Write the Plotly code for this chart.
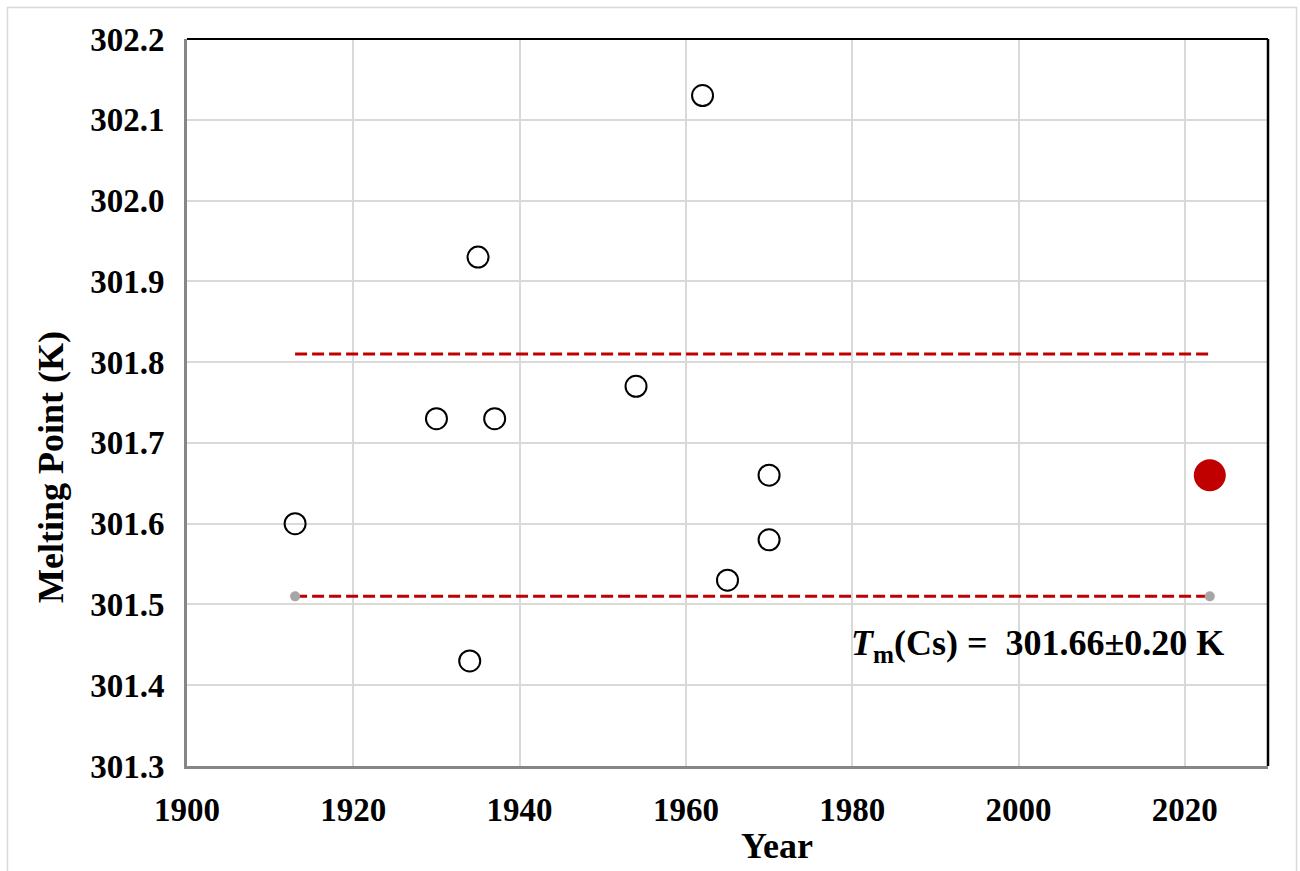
import plotly.graph_objects as go

years = [1913, 1930, 1934, 1935, 1937, 1954, 1962, 1965, 1970, 1970]
melting_points = [301.60, 301.73, 301.43, 301.93, 301.73, 301.77, 302.13, 301.53, 301.66, 301.58]
selected_year = [2023]
selected_value = [301.66]
band_years = [1913, 2023]
upper_bound = [301.81, 301.81]
lower_bound = [301.51, 301.51]
x_ticks = [1900, 1920, 1940, 1960, 1980, 2000, 2020]
y_ticks = [301.3, 301.4, 301.5, 301.6, 301.7, 301.8, 301.9, 302.0, 302.1, 302.2]

FONT = "Liberation Serif"
W, H = 1300, 871
L, R, T, B = 187, 1268, 39, 766

fig = go.Figure()
fig.add_trace(go.Scatter(x=band_years, y=upper_bound, mode="lines",
                         line=dict(color="#c00000", width=3, dash="12px,5px"),
                         showlegend=False, hoverinfo="skip"))
fig.add_trace(go.Scatter(x=band_years, y=lower_bound, mode="lines+markers",
                         line=dict(color="#c00000", width=3, dash="12px,5px"),
                         marker=dict(color="#a6a6a6", size=10),
                         showlegend=False, hoverinfo="skip"))
fig.add_trace(go.Scatter(x=years, y=melting_points, mode="markers",
                         marker=dict(symbol="circle-open", size=21, color="black",
                                     line=dict(width=2, color="black")),
                         showlegend=False))
fig.add_trace(go.Scatter(x=selected_year, y=selected_value, mode="markers",
                         marker=dict(symbol="circle", size=32, color="#c00000"),
                         showlegend=False))

def px_x(px):
    return (px - L) / (R - L)

def px_y(py):
    return (B - py) / (B - T)

shapes = [
    dict(type="rect", xref="paper", yref="paper",
         x0=px_x(7.5), x1=px_x(1296.5), y0=px_y(900), y1=px_y(7.5),
         line=dict(color="#d9d9d9", width=1.5), layer="below"),
    dict(type="line", xref="paper", yref="paper", x0=0, x1=1, y0=1, y1=1,
         line=dict(color="black", width=2)),
    dict(type="line", xref="paper", yref="paper", x0=1, x1=1, y0=0, y1=1,
         line=dict(color="black", width=2.5)),
]

fig.add_annotation(xref="paper", yref="paper", x=px_x(1226), y=px_y(645),
                   xanchor="right", yanchor="middle", showarrow=False,
                   text="<b><i>T</i><sub>m</sub>(Cs) =  301.66±0.20 K</b>",
                   font=dict(family=FONT, size=36, color="black"))
# axis titles (offset as in the reference)
fig.add_annotation(xref="paper", yref="paper", x=px_x(777), y=px_y(846),
                   xanchor="center", yanchor="middle", showarrow=False,
                   text="<b>Year</b>", font=dict(family=FONT, size=36, color="black"))
fig.add_annotation(xref="paper", yref="paper", x=px_x(51), y=px_y(467),
                   xanchor="center", yanchor="middle", showarrow=False, textangle=-90,
                   text="<b>Melting Point (K)</b>", font=dict(family=FONT, size=36, color="black"))

fig.update_layout(
    width=W, height=H,
    margin=dict(l=L, r=W - R, t=T, b=H - B),
    paper_bgcolor="white", plot_bgcolor="white",
    font=dict(family=FONT, color="black"),
    shapes=shapes,
    xaxis=dict(range=[1900, 2030], tickvals=x_ticks, ticktext=[f"<b>{v}</b>" for v in x_ticks],
               showgrid=True, gridcolor="#d9d9d9", gridwidth=1.5,
               showline=True, linecolor="#868686", linewidth=3,
               ticks="", zeroline=False, ticklabelstandoff=12,
               tickfont=dict(family=FONT, size=33, color="black")),
    yaxis=dict(range=[301.3, 302.2], tickvals=y_ticks, ticktext=[f"<b>{v:.1f}</b>" for v in y_ticks],
               showgrid=True, gridcolor="#d9d9d9", gridwidth=1.5,
               showline=True, linecolor="#868686", linewidth=3,
               ticks="", zeroline=False, ticklabelstandoff=13,
               tickfont=dict(family=FONT, size=33, color="black")),
)

fig.write_html("out.html")
